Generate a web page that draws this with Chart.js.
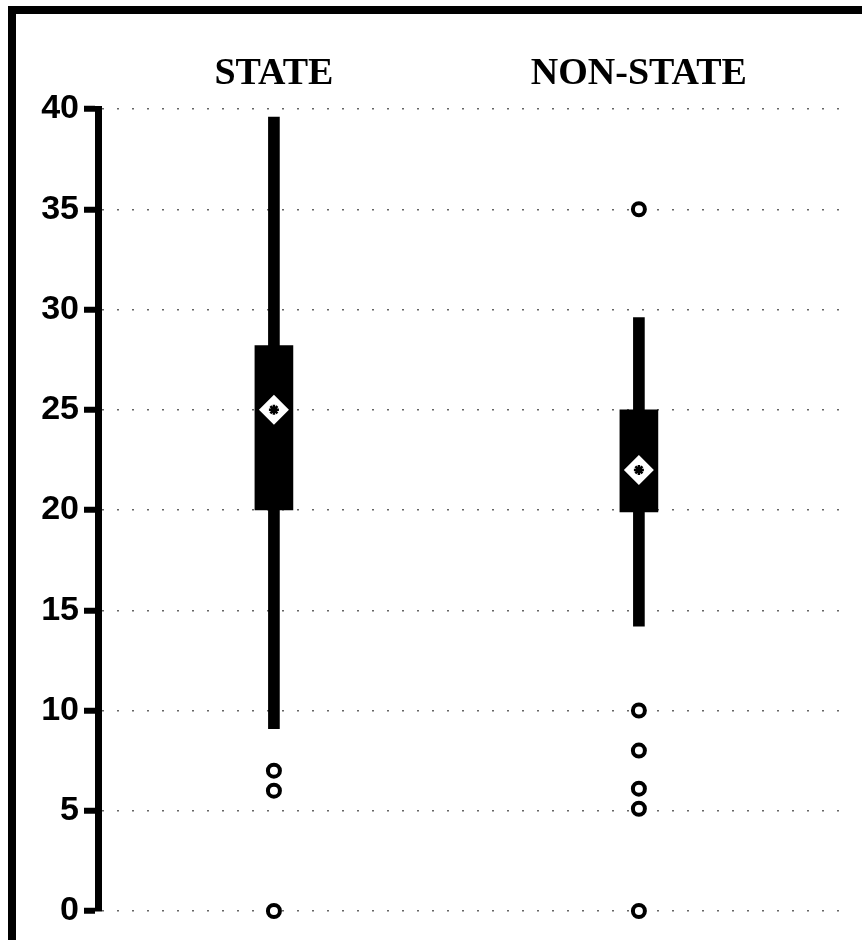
<!DOCTYPE html>
<html>
<head>
<meta charset="utf-8">
<script src="https://cdn.jsdelivr.net/npm/chart.js@4/dist/chart.umd.min.js"></script>
<style>
  body { margin: 0; background: #fff; overflow: hidden; }
  #wrap { position: relative; width: 862px; height: 940px; }
  #frame {
    position: absolute; left: 8px; top: 6px; width: 900px; height: 1000px;
    border: 8px solid #000; pointer-events: none;
  }
</style>
</head>
<body>
<div id="wrap">
  <canvas id="boxChart" width="862" height="940"></canvas>
  <div id="frame"></div>
</div>
<script>
// box plot values
const categories = ["STATE", "NON-STATE"];
const whiskerLow = [9.1, 14.2];
const quartile1 = [20, 19.9];
const quartile3 = [28.2, 25];
const whiskerHigh = [39.6, 29.6];
const means = [25, 22];
const stateOutliers = [7, 6, 0];
const nonStateOutliers = [35, 10, 8, 6.1, 5.1, 0];
const yTicks = [0, 5, 10, 15, 20, 25, 30, 35, 40];

let whiskerData = [];
let boxData = [];
let meanData = [];
for (let i = 0; i < categories.length; i++) {
  whiskerData.push({ x: i + 1, y: [whiskerLow[i], whiskerHigh[i]] });
  boxData.push({ x: i + 1, y: [quartile1[i], quartile3[i]] });
  meanData.push({ x: i + 1, y: means[i] });
}
let outlierData = [];
stateOutliers.forEach(v => outlierData.push({ x: 1, y: v }));
nonStateOutliers.forEach(v => outlierData.push({ x: 2, y: v }));

const ctx = document.getElementById("boxChart").getContext("2d");
new Chart(ctx, {
  type: "bar",
  data: {
    datasets: [
      { data: whiskerData, backgroundColor: "#000", barThickness: 11, grouped: false, order: 5 },
      { data: boxData, backgroundColor: "#000", barThickness: 38, grouped: false, order: 4 },
      { type: "scatter", data: meanData, pointStyle: "rectRot", pointRadius: 15,
        backgroundColor: "#fff", borderWidth: 0, clip: false, order: 3 },
      { type: "scatter", data: meanData, pointStyle: "star", pointRadius: 5,
        borderColor: "#000", borderWidth: 2.5, clip: false, order: 2 },
      { type: "scatter", data: outlierData, pointStyle: "circle", pointRadius: 6,
        backgroundColor: "#fff", borderColor: "#000", borderWidth: 4, clip: false, order: 1 }
    ]
  },
  options: {
    responsive: false,
    animation: false,
    devicePixelRatio: 1,
    layout: { padding: { left: 40, right: 22, top: 0, bottom: 29 } },
    plugins: { legend: { display: false }, tooltip: { enabled: false } },
    scales: {
      x: {
        type: "linear",
        position: "top",
        offset: false,
        min: 0.518,
        max: 2.551,
        grid: { display: false, drawTicks: false, offset: false },
        border: { display: false },
        afterFit: s => { s.height = 109; },
        afterBuildTicks: s => { s.ticks = categories.map((c, i) => ({ value: i + 1 })); },
        ticks: {
          padding: 16,
          color: "#000",
          font: { family: "'Liberation Serif', 'Times New Roman', serif", size: 38, weight: "bold", lineHeight: 1 },
          callback: v => categories[v - 1]
        }
      },
      y: {
        min: 0,
        max: 40,
        afterFit: s => { s.width = 58; },
        afterBuildTicks: s => { s.ticks = yTicks.map(v => ({ value: v })); },
        grid: { color: "#666", lineWidth: 1.5, tickLength: 14, tickWidth: 6, tickColor: "#000" },
        border: { color: "#000", width: 7, dash: [2, 13] },
        ticks: {
          padding: 5,
          color: "#000",
          font: { family: "'Liberation Sans', Arial, sans-serif", size: 34, weight: "bold" }
        }
      }
    }
  }
});
</script>
</body>
</html>
